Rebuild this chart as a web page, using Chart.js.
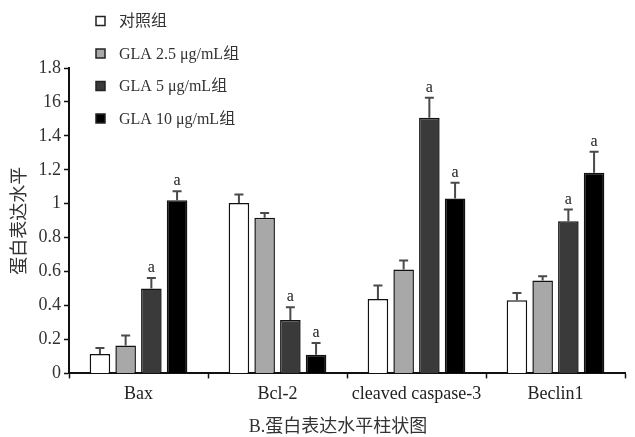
<!DOCTYPE html>
<html>
<head>
<meta charset="utf-8">
<script src="https://cdn.jsdelivr.net/npm/chart.js@4.4.1/dist/chart.umd.min.js"></script>
<style>
  html, body { margin: 0; padding: 0; background: #fff; }
  #wrap { width: 635px; height: 437px; }
</style>
</head>
<body>
<div id="wrap"><canvas id="bars"></canvas></div>
<script>
const categories = ["Bax", "Bcl-2", "cleaved caspase-3", "Beclin1"];
const groupLabels = ["对照组", "GLA 2.5 μg/mL组", "GLA 5 μg/mL组", "GLA 10 μg/mL组"];
const groupColors = ["#ffffff", "#a8a8a8", "#3a3a3a", "#000000"];
const caption = "B.蛋白表达水平柱状图";

// mean values per group
const control = [0.114, 1.005, 0.439, 0.431];
const gla25 = [0.165, 0.917, 0.612, 0.547];
const gla5 = [0.50, 0.315, 1.507, 0.897];
const gla10 = [1.02, 0.11, 1.031, 1.182];

// error (upper) per group
const controlErr = [0.035, 0.05, 0.079, 0.043];
const gla25Err = [0.059, 0.029, 0.053, 0.026];
const gla5Err = [0.063, 0.075, 0.118, 0.069];
const gla10Err = [0.054, 0.069, 0.092, 0.124];

// significance marks
const controlSig = ["", "", "", ""];
const gla25Sig = ["", "", "", ""];
const gla5Sig = ["a", "a", "a", "a"];
const gla10Sig = ["a", "a", "a", "a"];

const yTickLabels = ["0", "0.2", "0.4", "0.6", "0.8", "1", "1.2", "1.4", "16", "1.8"];

const serif = "'Liberation Serif', 'Noto Sans CJK SC', serif";

const means = [control, gla25, gla5, gla10];
const errs = [controlErr, gla25Err, gla5Err, gla10Err];
const sigs = [controlSig, gla25Sig, gla5Sig, gla10Sig];

const datasets = groupLabels.map((label, i) => ({
  label: label,
  data: means[i],
  err: errs[i],
  sig: sigs[i],
  backgroundColor: groupColors[i],
  borderColor: "#111",
  borderWidth: 1.5,
  categoryPercentage: 0.74,
  barPercentage: 0.8,
}));

// error bars and "a" marks
const errorBars = {
  id: "errorBars",
  afterDatasetsDraw(chart) {
    const ctx = chart.ctx;
    const y = chart.scales.y;
    ctx.save();
    chart.data.datasets.forEach((ds, i) => {
      const meta = chart.getDatasetMeta(i);
      meta.data.forEach((bar, j) => {
        const top = y.getPixelForValue(ds.data[j]);
        const end = y.getPixelForValue(ds.data[j] + ds.err[j]);
        ctx.strokeStyle = "#4a4a4a";
        ctx.lineWidth = 2;
        ctx.beginPath();
        ctx.moveTo(bar.x, top);
        ctx.lineTo(bar.x, end);
        ctx.moveTo(bar.x - 4.5, end);
        ctx.lineTo(bar.x + 4.5, end);
        ctx.stroke();
        if (ds.sig[j]) {
          ctx.fillStyle = "#222";
          ctx.font = "16px " + serif;
          ctx.textAlign = "center";
          ctx.textBaseline = "alphabetic";
          ctx.fillText(ds.sig[j], bar.x, end - 6);
        }
      });
    });
    ctx.restore();
  },
};

// vertical legend at top left, caption at the bottom
const sideLegend = {
  id: "sideLegend",
  afterDraw(chart) {
    const ctx = chart.ctx;
    ctx.save();
    chart.data.datasets.forEach((ds, i) => {
      const cy = 21 + i * 32.5;
      ctx.fillStyle = ds.backgroundColor;
      ctx.fillRect(96, cy - 4.5, 9, 9);
      ctx.strokeStyle = "#222";
      ctx.lineWidth = 1.5;
      ctx.strokeRect(96, cy - 4.5, 9, 9);
      ctx.fillStyle = "#333";
      ctx.font = "16px " + serif;
      ctx.textAlign = "left";
      ctx.textBaseline = "middle";
      ctx.fillText(ds.label, 119, cy + 1);
    });
    ctx.fillStyle = "#333";
    ctx.font = "18px " + serif;
    ctx.textAlign = "center";
    ctx.textBaseline = "middle";
    ctx.fillText(caption, 338, 427);
    ctx.restore();
  },
};

new Chart(document.getElementById("bars"), {
  type: "bar",
  data: { labels: categories, datasets: datasets },
  plugins: [errorBars, sideLegend],
  options: {
    responsive: true,
    maintainAspectRatio: false,
    animation: false,
    layout: { padding: { top: 68, right: 10, left: 0, bottom: 27 } },
    plugins: {
      legend: { display: false },
      tooltip: { enabled: false },
      title: { display: false },
    },
    scales: {
      x: {
        grid: {
          offset: true,
          drawOnChartArea: false,
          color: "#111",
          tickLength: 5,
          tickWidth: 1.5,
        },
        border: { color: "#111", width: 2 },
        ticks: {
          color: "#222",
          padding: 5,
          font: { family: serif, size: 18 },
          maxRotation: 0,
        },
      },
      y: {
        min: 0,
        max: 1.8,
        afterFit(scale) { scale.width = 69; },
        grid: {
          drawOnChartArea: false,
          color: "#111",
          tickLength: 5,
          tickWidth: 1.5,
        },
        border: { color: "#111", width: 2 },
        ticks: {
          stepSize: 0.2,
          color: "#333",
          padding: 3,
          font: { family: serif, size: 18 },
          callback: (value, index) => yTickLabels[index],
        },
        title: {
          display: true,
          text: "蛋白表达水平",
          color: "#333",
          font: { family: serif, size: 18 },
          padding: { top: 9, bottom: 0 },
        },
      },
    },
  },
});
</script>
</body>
</html>
